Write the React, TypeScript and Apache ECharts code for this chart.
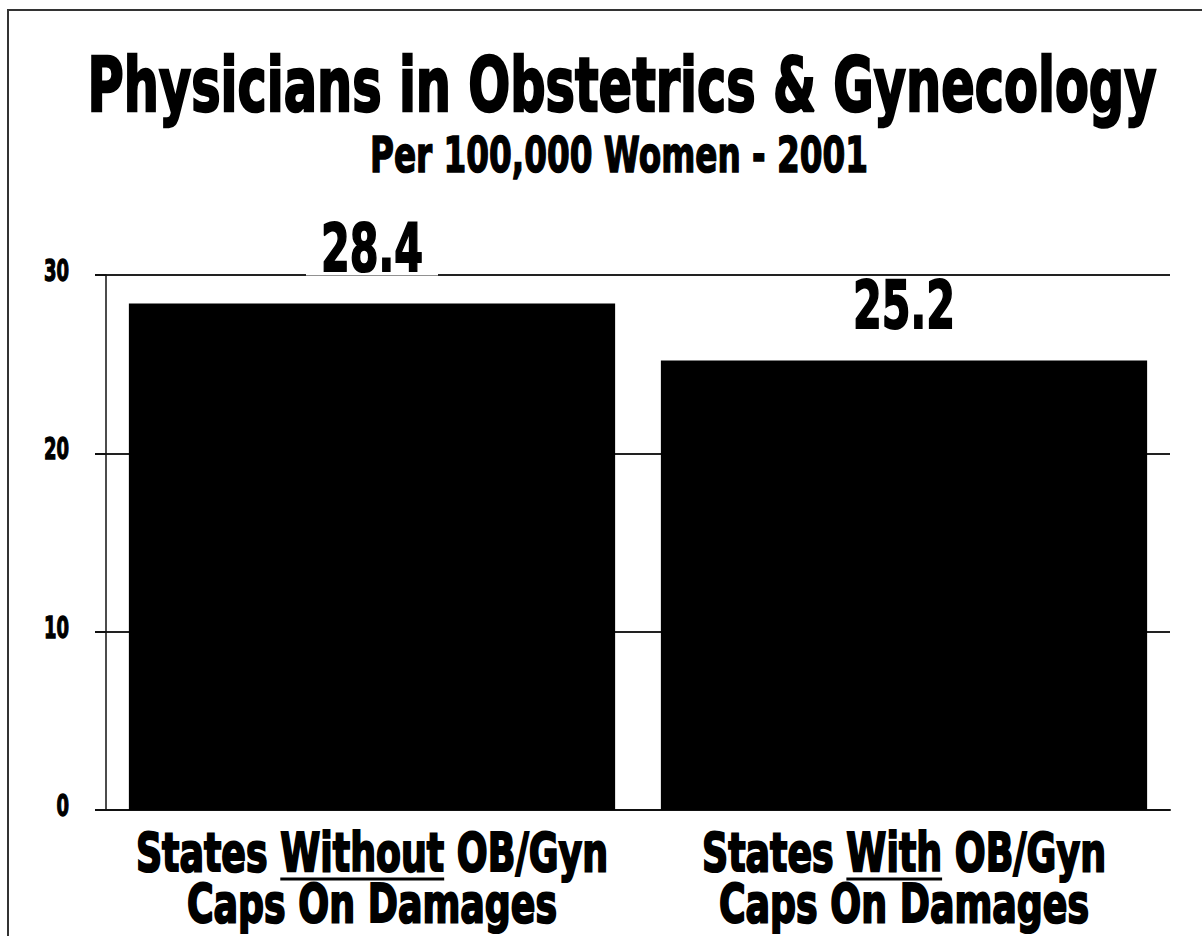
import React, { useEffect, useRef } from "react";
import * as echarts from "echarts";

// Chart data
const categoryLine1 = ["States Without OB/Gyn", "States With OB/Gyn"];
const categoryLine2 = ["Caps On Damages", "Caps On Damages"];
const emphasisWords = ["Without", "With"];
const values = [28.4, 25.2];
const yTicks = [0, 10, 20, 30];
const yMin = 0;
const yMax = 30;
const yInterval = 10;

const titleText = "Physicians in Obstetrics & Gynecology";
const subtitleText = "Per 100,000 Women - 2001";

// Heavy condensed lettering: bold sans squeezed horizontally
const FAMILY = '"DejaVu Sans", sans-serif';

export default function App() {
  const ref = useRef<HTMLDivElement>(null);

  useEffect(() => {
    if (!ref.current) return;
    const chart = echarts.init(ref.current, undefined, { renderer: "svg" });
    const categories = categoryLine1.map((l, i) => l + "\n" + categoryLine2[i]);

    chart.setOption({
      animation: false,
      backgroundColor: "#fff",
      grid: { left: 106, right: 32, top: 275, bottom: 126, containLabel: false },
      xAxis: {
        type: "category",
        data: categories,
        axisLine: { show: true, lineStyle: { color: "#111", width: 2 } },
        axisTick: { show: false },
        axisLabel: { show: false },
      },
      yAxis: {
        type: "value",
        min: yMin,
        max: yMax,
        interval: yInterval,
        axisLine: { show: true, lineStyle: { color: "#111", width: 1.5 } },
        axisTick: { show: true, length: 11, lineStyle: { color: "#111", width: 2 } },
        splitLine: { show: true, lineStyle: { color: "#222", width: 2 } },
        axisLabel: { show: false },
      },
      series: [
        {
          type: "bar",
          data: values,
          barCategoryGap: "8.6%",
          itemStyle: { color: "#000" },
        },
      ],
    });

    const canvas = document.createElement("canvas");
    const ctx = canvas.getContext("2d")!;
    const measure = (text: string, fs: number) => {
      ctx.font = `bold ${fs}px ${FAMILY}`;
      return ctx.measureText(text).width;
    };
    const text = (
      str: string,
      fs: number,
      scaleX: number,
      x: number,
      y: number,
      align: string,
      strokeW = 0
    ) => ({
      type: "text",
      x,
      y,
      scaleX,
      z: 10,
      silent: true,
      style: {
        text: str,
        fontSize: fs,
        fontWeight: "bold",
        fontFamily: FAMILY,
        fill: "#000",
        stroke: strokeW ? "#000" : undefined,
        lineWidth: strokeW,
        align,
        verticalAlign: "middle",
      },
    });

    const els: any[] = [];

    // Frame
    els.push({
      type: "rect",
      shape: { x: 8, y: 10, width: 1200, height: 940 },
      style: { fill: "none", stroke: "#333", lineWidth: 2 },
      silent: true,
    });

    // Title and subtitle
    const TITLE_FS = 75;
    els.push(text(titleText, TITLE_FS, 1069 / measure(titleText, TITLE_FS), 622, 85, "center", 2.5));
    const SUB_FS = 50;
    els.push(text(subtitleText, SUB_FS, 498 / measure(subtitleText, SUB_FS), 619, 155, "center", 1.6));

    // Y-axis tick labels, placed on the axis scale
    const Y_FS = 31;
    const yScale = 25 / measure("30", Y_FS);
    yTicks.forEach((t) => {
      const py = chart.convertToPixel({ yAxisIndex: 0 }, t) as number;
      els.push(text(String(t), Y_FS, yScale, 69, py - 5, "right", 1.4));
    });

    // Category labels under each bar, with the key word underlined
    const CAT_FS = 54;
    const catScale = 472 / measure(categoryLine1[0], CAT_FS);
    const axisY = chart.convertToPixel({ yAxisIndex: 0 }, 0) as number;
    const line1Y = axisY + 42;
    const line2Y = axisY + 93;
    categoryLine1.forEach((line, i) => {
      const cx = chart.convertToPixel({ xAxisIndex: 0 }, i) as number;
      els.push(text(line, CAT_FS, catScale, cx, line1Y, "center", 2.2));
      els.push(text(categoryLine2[i], CAT_FS, catScale, cx, line2Y, "center", 2.2));
      const total = measure(line, CAT_FS) * catScale;
      const idx = line.indexOf(emphasisWords[i]);
      const pre = measure(line.slice(0, idx), CAT_FS) * catScale;
      const w = measure(emphasisWords[i], CAT_FS) * catScale;
      const x1 = cx - total / 2 + pre;
      const uy = line1Y + 27;
      els.push({
        type: "line",
        z: 10,
        shape: { x1, y1: uy, x2: x1 + w, y2: uy },
        style: { stroke: "#000", lineWidth: 3 },
        silent: true,
      });
    });

    // Value labels above each bar, on a white backing that breaks the gridline
    const VAL_FS = 65;
    const valScale = 102 / measure("28.4", VAL_FS);
    values.forEach((v, i) => {
      const [px, py] = chart.convertToPixel({ seriesIndex: 0 }, [i, v]) as number[];
      const label = v.toFixed(1);
      const w = measure(label, VAL_FS) * valScale;
      const cy = py - 55;
      els.push({
        type: "rect",
        z: 9,
        silent: true,
        shape: { x: px - w / 2 - 15, y: cy - 27, width: w + 30, height: 54 },
        style: { fill: "#fff" },
      });
      els.push(text(label, VAL_FS, valScale, px, cy, "center", 2));
    });

    chart.setOption({ graphic: els });

    return () => chart.dispose();
  }, []);

  return (
    <div
      ref={ref}
      style={{ position: "fixed", left: 0, top: 0, width: 1202, height: 936, background: "#fff" }}
    />
  );
}
